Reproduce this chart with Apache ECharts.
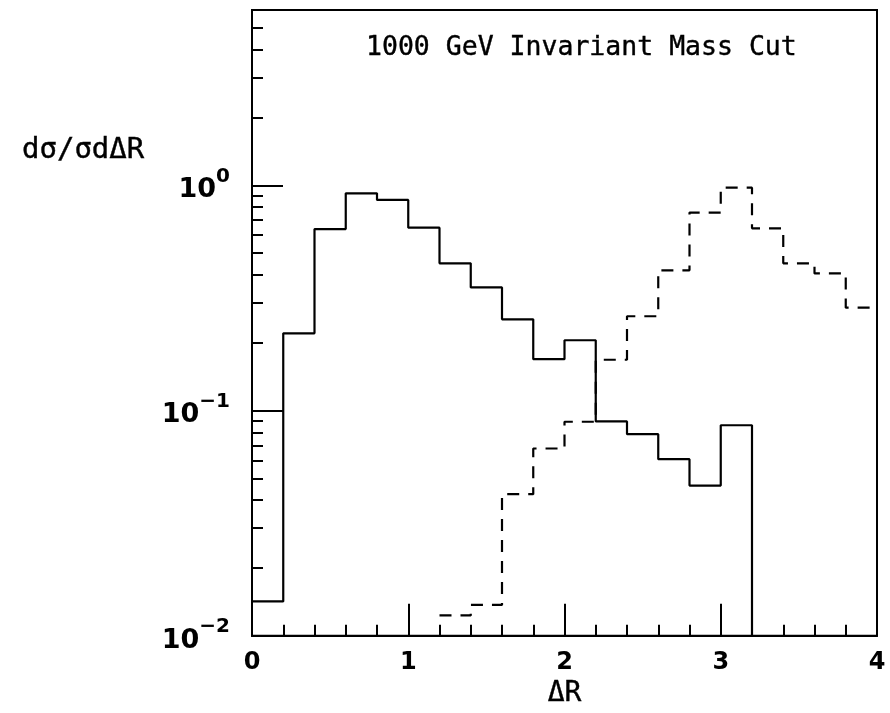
<!DOCTYPE html>
<html><head><meta charset="utf-8">
<script src="https://cdn.jsdelivr.net/npm/echarts@6/dist/echarts.min.js"></script>
<style>html,body{margin:0;padding:0;background:#fff}#c{width:890px;height:713px}</style>
</head><body><div id="c"></div>
<script>
// Bin edges (ΔR), 0.2 wide
const binEdges = [0.0,0.2,0.4,0.6,0.8,1.0,1.2,1.4,1.6,1.8,2.0,2.2,2.4,2.6,2.8,3.0,3.2,3.4,3.6,3.8,4.0];
// Solid histogram (per bin), null = empty bin
const solidValues = [0.0142,0.220,0.639,0.921,0.861,0.648,0.450,0.352,0.254,0.169,0.205,0.0894,0.0785,0.0608,0.0464,0.0860,null,null,null,null];
// Dashed histogram (per bin)
const dashedValues = [null,null,null,null,null,null,0.0123,0.0137,0.0425,0.0678,0.0891,0.168,0.262,0.419,0.756,0.976,0.644,0.450,0.406,0.286];
const xTicks = [0,1,2,3,4];
const yMin = 0.01, yMax = 6;
const titleText = '1000 GeV Invariant Mass Cut';
const yName = 'dσ/σdΔR';
const xName = 'ΔR';

function stepPoints(vals){
  const pts = [];
  for (let i = 0; i < vals.length; i++) {
    const v = vals[i];
    if (v == null) continue;
    pts.push([binEdges[i], v]);
    const next = vals[i+1];
    if (i + 1 >= vals.length) pts.push([binEdges[i+1], v]);
    else if (next == null) pts.push([binEdges[i+1], yMin]);
  }
  return pts;
}

const chart = echarts.init(document.getElementById('c'));
const black = '#000';
chart.setOption({
  animation: false,
  backgroundColor: '#fff',
  title: [
    {text: titleText, left: 366, top: 35, padding: 0,
     textStyle: {fontFamily: 'DejaVu Sans Mono', fontSize: 26.5, fontWeight: 'normal', color: black, textBorderColor: black, textBorderWidth: 0.4}},
    {text: yName, left: 22, top: 136, padding: 0,
     textStyle: {fontFamily: 'DejaVu Sans Mono', fontSize: 29, fontWeight: 'normal', color: black, textBorderColor: black, textBorderWidth: 0.4}}
  ],
  grid: {left: 252, right: 13, top: 10, bottom: 77, show: true, borderColor: black, borderWidth: 2, backgroundColor: 'transparent'},
  xAxis: {
    type: 'value', min: xTicks[0], max: xTicks[xTicks.length-1], interval: 1,
    name: xName, nameLocation: 'middle', nameGap: 44,
    nameTextStyle: {fontFamily: 'DejaVu Sans Mono', fontSize: 28, color: black, textBorderColor: black, textBorderWidth: 0.4},
    axisLine: {show: true, lineStyle: {color: black, width: 2}},
    axisTick: {show: true, inside: true, length: 32, lineStyle: {color: black, width: 2}},
    minorTick: {show: true, splitNumber: 5, length: 11, lineStyle: {color: black, width: 2}},
    splitLine: {show: false},
    axisLabel: {margin: 15, fontFamily: 'DejaVu Sans', fontSize: 24, fontWeight: 'bold', color: black}
  },
  yAxis: {
    type: 'log', logBase: 10, min: yMin, max: yMax,
    axisLine: {show: true, lineStyle: {color: black, width: 2}},
    axisTick: {show: true, inside: true, length: 31, lineStyle: {color: black, width: 2}},
    minorTick: {show: true, splitNumber: 9, length: 11, lineStyle: {color: black, width: 2}},
    splitLine: {show: false},
    minorSplitLine: {show: false},
    axisLabel: {
      margin: 22,
      formatter: function(v){
        const e = Math.log10(v), r = Math.round(e);
        if (Math.abs(e - r) > 1e-6) return '';
        return '{b|10}{s|' + (r < 0 ? '\u2212' + (-r) : r) + '}';
      },
      rich: {
        b: {fontFamily: 'DejaVu Sans', fontSize: 27, fontWeight: 'bold', color: black, verticalAlign: 'bottom'},
        s: {fontFamily: 'DejaVu Sans', fontSize: 20, fontWeight: 'bold', color: black, verticalAlign: 'bottom', padding: [0,0,17,0]}
      }
    }
  },
  series: [
    {type: 'line', step: 'end', data: stepPoints(solidValues), symbol: 'none',
     lineStyle: {color: black, width: 2.2, type: 'solid'}},
    {type: 'line', step: 'end', data: stepPoints(dashedValues), symbol: 'none',
     lineStyle: {color: black, width: 2.2, type: [12, 9]}}
  ]
});
</script></body></html>
